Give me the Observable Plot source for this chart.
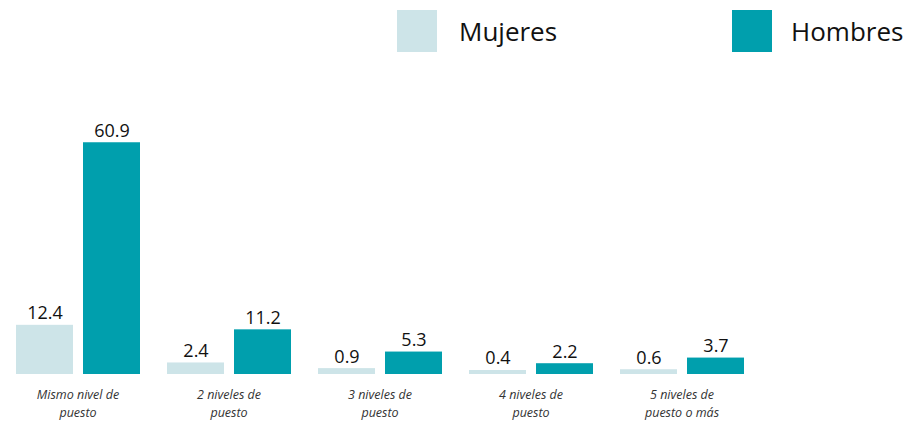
<!DOCTYPE html>
<html>
<head>
<meta charset="utf-8">
<script src="https://cdn.jsdelivr.net/npm/d3@7"></script>
<script src="https://cdn.jsdelivr.net/npm/@observablehq/plot@0.6"></script>
<style>
  html, body { margin: 0; padding: 0; background: #fff; }
  body { width: 908px; height: 422px; overflow: hidden; font-family: "Open Sans", sans-serif; }
  #legend { position: relative; height: 60px; }
  .sw { position: absolute; top: 10px; width: 40px; height: 42px; }
  .lb { position: absolute; top: 12px; font-size: 26px; line-height: 38px; color: #111; }
</style>
</head>
<body>
<div id="legend"></div>
<div id="chart"></div>
<script>
const categories = ["Mismo nivel de puesto", "2 niveles de puesto", "3 niveles de puesto", "4 niveles de puesto", "5 niveles de puesto o más"];
const categoryLabels = ["Mismo nivel de\npuesto", "2 niveles de\npuesto", "3 niveles de\npuesto", "4 niveles de\npuesto", "5 niveles de\npuesto o más"];
const series = ["Mujeres", "Hombres"];
const mujeres = [12.4, 2.4, 0.9, 0.4, 0.6];
const hombres = [60.9, 11.2, 5.3, 2.2, 3.7];
const colors = ["#cde4e8", "#009fad"];

const data = [];
categories.forEach((c, i) => {
  data.push({category: c, series: "Mujeres", value: mujeres[i]});
  data.push({category: c, series: "Hombres", value: hombres[i]});
});
const labelOf = new Map(categories.map((c, i) => [c, categoryLabels[i]]));

// legend
const legend = document.getElementById("legend");
const legendPos = [{sw: 397, lb: 459}, {sw: 732, lb: 791}];
series.forEach((s, i) => {
  const sw = document.createElement("div");
  sw.className = "sw"; sw.style.left = legendPos[i].sw + "px"; sw.style.background = colors[i];
  const lb = document.createElement("div");
  lb.className = "lb"; lb.style.left = legendPos[i].lb + "px"; lb.textContent = s;
  legend.appendChild(sw); legend.appendChild(lb);
});

const chart = Plot.plot({
  width: 908,
  height: 362,
  marginLeft: 0,
  marginRight: 150,
  marginTop: 48,
  marginBottom: 50.5,
  style: {fontFamily: "'Open Sans', sans-serif", background: "#fff"},
  fx: {domain: categories, padding: 0, label: null},
  x: {domain: series, paddingInner: 0.15, paddingOuter: 0.2, axis: null},
  y: {domain: [0, 70], axis: null},
  color: {domain: series, range: colors},
  marks: [
    Plot.barY(data, {fx: "category", x: "series", y: "value", fill: "series", insetBottom: -2.5}),
    Plot.text(data, {fx: "category", x: "series", y: "value", text: d => d.value.toFixed(1),
      lineAnchor: "bottom", dy: -6, fontSize: 18, fill: "#111"}),
    Plot.axisFx({anchor: "bottom", tickSize: 0, tickPadding: 14, label: null,
      tickFormat: d => labelOf.get(d), fontSize: 12.5, fontStyle: "italic", lineHeight: 1.45, fill: "#333"})
  ]
});
document.getElementById("chart").appendChild(chart);
</script>
</body>
</html>
